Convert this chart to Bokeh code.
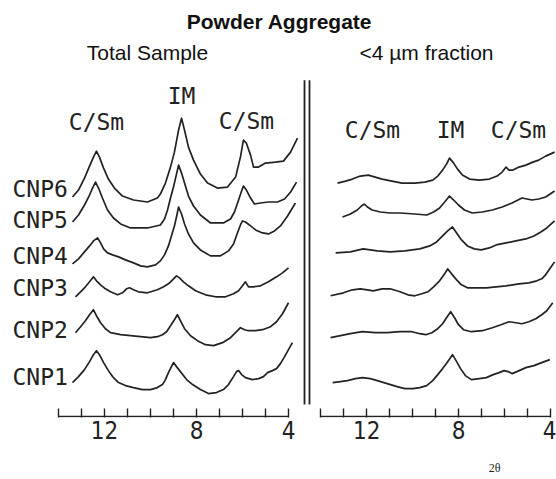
from bokeh.plotting import figure
from bokeh.models import Range1d, FixedTicker, ColumnDataSource, Label, LinearAxis
from bokeh.transform import dodge
from bokeh.embed import file_html
from bokeh.resources import INLINE

# ---------------- data ----------------
samples = ["CNP6", "CNP5", "CNP4", "CNP3", "CNP2", "CNP1"]
tick_values = [14, 13, 12, 11, 10, 9, 8, 7, 6, 5, 4]
labeled_ticks = [12, 8, 4]

# Total sample: 2-theta and intensity (relative) for each trace, plus stacking offsets
ts_offsets = [215, 189, 150, 120, 71, 23]

ts_cnp6_2t = [13.39, 13.13, 12.87, 12.65, 12.48, 12.35, 12.22, 12.04, 11.83, 11.57, 11.22, 10.74, 10.13, 9.70, 9.57, 9.35, 9.13, 8.96, 8.78, 8.65, 8.52, 8.35, 8.13, 7.83, 7.52, 7.09, 6.65, 6.30, 6.09, 5.96, 5.83, 5.65, 5.52, 5.30, 5.00, 4.57, 4.22, 3.91, 3.61]
ts_cnp6_i = [5, 12, 24, 36, 45, 51, 45, 34, 23, 14, 6, 2, 0, 4, 8, 19, 35, 50, 72, 84, 72, 55, 42, 28, 19, 14, 15, 25, 45, 62, 59, 47, 35, 35, 39, 40, 41, 50, 64]

ts_cnp5_2t = [13.39, 13.13, 12.87, 12.65, 12.52, 12.39, 12.26, 12.09, 11.87, 11.61, 11.30, 10.87, 10.13, 9.57, 9.39, 9.26, 9.13, 9.00, 8.87, 8.78, 8.65, 8.52, 8.35, 8.13, 7.83, 7.39, 6.83, 6.52, 6.35, 6.17, 6.04, 5.96, 5.83, 5.65, 5.48, 5.22, 4.87, 4.48, 4.17, 3.91, 3.65]
ts_cnp5_i = [6, 13, 23, 33, 40, 46, 40, 30, 18, 10, 4, 0, 0, 3, 9, 18, 30, 41, 54, 63, 55, 45, 32, 22, 13, 5, 5, 9, 16, 28, 37, 42, 38, 30, 24, 25, 26, 26, 29, 36, 46]

ts_cnp4_2t = [13.39, 13.13, 12.87, 12.65, 12.48, 12.30, 12.17, 12.04, 11.87, 11.65, 11.39, 11.09, 10.74, 10.43, 10.13, 9.78, 9.57, 9.39, 9.22, 9.09, 8.96, 8.87, 8.78, 8.65, 8.52, 8.35, 8.13, 7.83, 7.39, 6.96, 6.61, 6.39, 6.22, 6.09, 6.00, 5.87, 5.70, 5.43, 5.13, 4.87, 4.61, 4.35, 4.04, 3.70]
ts_cnp4_i = [3, 8, 15, 21, 26, 29, 24, 18, 14, 12, 10, 7, 4, 1, 0, 2, 6, 12, 21, 31, 41, 50, 60, 53, 43, 33, 24, 17, 11, 11, 16, 23, 34, 42, 46, 45, 42, 37, 34, 33, 36, 41, 51, 64]

ts_cnp3_2t = [13.26, 13.04, 12.83, 12.65, 12.48, 12.35, 12.17, 11.96, 11.74, 11.43, 11.22, 11.04, 10.91, 10.74, 10.52, 10.13, 9.70, 9.43, 9.22, 9.04, 8.87, 8.74, 8.57, 8.35, 8.04, 7.61, 7.17, 6.74, 6.39, 6.17, 6.00, 5.87, 5.74, 5.52, 5.22, 4.87, 4.52, 4.26, 4.00]
ts_cnp3_i = [0, 5, 10, 15, 20, 16, 12, 8, 5, 2, 4, 8, 9, 7, 5, 4, 7, 10, 13, 17, 21, 19, 15, 11, 6, 2, 0, 0, 3, 6, 11, 15, 10, 10, 11, 15, 20, 24, 29]

ts_cnp2_2t = [13.26, 13.04, 12.83, 12.65, 12.48, 12.35, 12.17, 11.96, 11.74, 11.30, 10.87, 10.43, 10.00, 9.70, 9.48, 9.30, 9.13, 8.96, 8.83, 8.70, 8.52, 8.26, 7.96, 7.61, 7.26, 6.87, 6.52, 6.26, 6.09, 5.91, 5.74, 5.43, 5.13, 4.78, 4.52, 4.26, 4.00]
ts_cnp2_i = [13, 19, 25, 31, 36, 30, 23, 17, 13, 11, 10, 9, 8, 9, 11, 14, 20, 26, 31, 25, 17, 10, 5, 1, 0, 3, 8, 14, 18, 16, 15, 15, 16, 19, 24, 32, 43]

ts_cnp1_2t = [13.39, 13.13, 12.87, 12.65, 12.48, 12.35, 12.22, 12.04, 11.83, 11.65, 11.39, 11.09, 10.74, 10.35, 10.00, 9.70, 9.48, 9.35, 9.22, 9.09, 9.00, 8.87, 8.70, 8.43, 8.17, 7.83, 7.48, 7.13, 6.83, 6.61, 6.39, 6.26, 6.17, 6.04, 5.87, 5.57, 5.30, 5.09, 4.91, 4.70, 4.52, 4.35, 4.17, 4.00, 3.83]
ts_cnp1_i = [11, 17, 24, 32, 39, 43, 39, 31, 23, 17, 11, 8, 6, 4, 4, 6, 9, 14, 21, 27, 31, 27, 22, 14, 9, 4, 0, 1, 4, 9, 17, 22, 23, 19, 16, 14, 15, 17, 21, 23, 25, 30, 37, 44, 51]

# <4 um fraction
f4_offsets = [234, 200, 164, 121, 79, 28]

f4_cnp6_2t = [13.27, 12.92, 12.62, 12.28, 11.93, 11.63, 11.33, 10.90, 10.47, 9.91, 9.47, 9.13, 8.91, 8.70, 8.53, 8.40, 8.22, 8.05, 7.84, 7.53, 7.10, 6.67, 6.33, 6.11, 5.94, 5.81, 5.64, 5.38, 5.08, 4.78, 4.52, 4.22, 3.83]
f4_cnp6_i = [0, 2, 4, 7, 8, 6, 4, 2, 0, 0, 1, 3, 7, 13, 19, 25, 20, 14, 8, 4, 3, 4, 7, 11, 16, 13, 13, 16, 18, 21, 23, 27, 31]

f4_cnp5_2t = [13.05, 12.71, 12.41, 12.23, 12.10, 11.97, 11.76, 11.41, 10.98, 10.55, 9.91, 9.39, 9.09, 8.83, 8.61, 8.40, 8.22, 8.01, 7.75, 7.41, 6.97, 6.54, 6.11, 5.68, 5.42, 5.25, 5.03, 4.82, 4.52, 4.22, 3.83]
f4_cnp5_i = [0, 3, 7, 11, 13, 10, 7, 5, 4, 4, 3, 2, 5, 9, 15, 21, 17, 12, 7, 4, 5, 7, 10, 14, 17, 19, 18, 17, 18, 20, 26]

f4_cnp4_2t = [13.35, 12.71, 12.15, 11.54, 10.98, 10.34, 9.69, 9.26, 8.96, 8.70, 8.48, 8.27, 8.09, 7.88, 7.62, 7.32, 7.02, 6.67, 6.37, 5.94, 5.51, 5.08, 4.73, 4.43, 4.17, 3.83]
f4_cnp4_i = [0, 1, 4, 2, 1, 2, 4, 7, 11, 17, 22, 26, 20, 13, 7, 4, 3, 5, 8, 10, 12, 14, 17, 21, 25, 32]

f4_cnp3_2t = [13.57, 13.01, 12.62, 12.28, 11.97, 11.72, 11.33, 10.98, 10.55, 10.21, 9.91, 9.60, 9.34, 9.09, 8.83, 8.61, 8.48, 8.31, 8.09, 7.88, 7.62, 7.23, 6.80, 6.37, 5.94, 5.38, 4.95, 4.60, 4.39, 4.22, 4.04, 3.83]
f4_cnp3_i = [0, 3, 6, 7, 6, 5, 7, 7, 4, 1, 0, 2, 4, 9, 15, 22, 27, 22, 16, 11, 8, 8, 8, 9, 10, 12, 13, 15, 17, 21, 27, 34]

f4_cnp2_2t = [13.57, 13.14, 12.71, 12.19, 11.63, 11.11, 10.55, 10.03, 9.69, 9.43, 9.17, 8.91, 8.70, 8.53, 8.35, 8.18, 8.01, 7.79, 7.45, 6.97, 6.54, 6.16, 5.81, 5.51, 5.25, 4.95, 4.65, 4.39, 4.17, 3.91]
f4_cnp2_i = [0, 2, 4, 6, 5, 5, 6, 6, 4, 3, 5, 9, 14, 20, 26, 20, 13, 8, 6, 7, 10, 13, 16, 15, 14, 16, 19, 23, 27, 35]

f4_cnp1_2t = [13.48, 13.14, 12.84, 12.49, 12.19, 11.84, 11.54, 11.11, 10.68, 10.34, 9.99, 9.69, 9.39, 9.13, 8.91, 8.70, 8.48, 8.27, 8.09, 7.92, 7.71, 7.45, 7.10, 6.80, 6.50, 6.24, 6.03, 5.85, 5.68, 5.47, 5.08, 4.73, 4.39, 4.04]
f4_cnp1_i = [6, 7, 8, 10, 11, 10, 8, 5, 2, 0, 0, 1, 3, 8, 14, 20, 27, 34, 27, 20, 13, 9, 10, 11, 14, 16, 18, 17, 15, 17, 21, 23, 26, 29]

ts_traces = [(ts_cnp6_2t, ts_cnp6_i), (ts_cnp5_2t, ts_cnp5_i), (ts_cnp4_2t, ts_cnp4_i),
             (ts_cnp3_2t, ts_cnp3_i), (ts_cnp2_2t, ts_cnp2_i), (ts_cnp1_2t, ts_cnp1_i)]
f4_traces = [(f4_cnp6_2t, f4_cnp6_i), (f4_cnp5_2t, f4_cnp5_i), (f4_cnp4_2t, f4_cnp4_i),
             (f4_cnp3_2t, f4_cnp3_i), (f4_cnp2_2t, f4_cnp2_i), (f4_cnp1_2t, f4_cnp1_i)]

# ---------------- layout ----------------
W, H = 556, 477
FRAME_H = 418
PX = 23.0                 # pixels per degree 2-theta
X0 = 14 + 58 / PX         # left edge of the frame
X1 = X0 - W / PX
SHIFT = -11.4             # where the second panel sits on the shared scale
TXT_DY = 7                # lift of the text labels
INK = "#222222"
LETTER = "DejaVu Sans Mono"
SANS = "Liberation Sans"
TICKFONT = "'Liberation Sans Narrow', 'DejaVu Sans Condensed', sans-serif"


def sx(px):
    return X0 - px / PX


def sy(py):
    return 417 - py


p = figure(width=W, height=H, x_range=Range1d(X0, X1), y_range=Range1d(-1, FRAME_H - 1),
           output_backend="svg", toolbar_location=None, y_axis_location=None,
           min_border_left=0, min_border_right=0, min_border_top=0,
           min_border_bottom=H - FRAME_H, background_fill_color="white",
           border_fill_color="white", outline_line_color=None)
p.grid.visible = False

# x axis with both panels' ticks
ticks = [float(t) for t in tick_values] + [t + SHIFT for t in tick_values]
overrides = {}
for t in tick_values:
    lab = str(t) if t in labeled_ticks else ""
    overrides[float(t)] = lab
    overrides[t + SHIFT] = lab
ax = p.xaxis[0]
ax.ticker = FixedTicker(ticks=ticks, minor_ticks=[])
ax.major_label_overrides = overrides
ax.axis_line_color = None
ax.major_tick_in = 9
ax.major_tick_out = 0
ax.major_tick_line_width = 1.4
ax.major_tick_line_color = INK
ax.minor_tick_line_color = None
ax.major_label_text_font = TICKFONT
ax.major_label_text_font_size = "24px"
ax.major_label_text_color = INK
ax.major_label_standoff = 3

# "2θ" note under the right panel, as a one-label axis stacked below
pos_2t = sx(494)
ax2 = LinearAxis(ticker=FixedTicker(ticks=[pos_2t], minor_ticks=[]),
                 major_label_overrides={pos_2t: "2\u03b8"},
                 axis_line_color=None, major_tick_line_color=None,
                 minor_tick_line_color=None, major_label_standoff=13,
                 major_label_text_font="Liberation Serif",
                 major_label_text_font_size="12px", major_label_text_color=INK)
p.add_layout(ax2, "below")

# baselines of the two panels
p.segment(x0=[14, 14 + SHIFT], x1=[4, 4 + SHIFT], y0=[0, 0], y1=[0, 0],
          line_color=INK, line_width=1.5)

# double divider
p.segment(x0=[sx(304), sx(309)], x1=[sx(304), sx(309)], y0=[sy(405), sy(405)],
          y1=[sy(80), sy(80)], line_color=INK, line_width=1.8)

# traces
for (xs, ys), off in zip(ts_traces, ts_offsets):
    src = ColumnDataSource(dict(x=xs, y=[off + v for v in ys]))
    p.line(x="x", y="y", source=src, line_color=INK, line_width=1.7, line_join="round")
for (xs, ys), off in zip(f4_traces, f4_offsets):
    src = ColumnDataSource(dict(x=xs, y=[off + v for v in ys]))
    p.line(x=dodge("x", SHIFT), y="y", source=src, line_color=INK, line_width=1.7,
           line_join="round")


def add_label(text, cx, base, font, size, align="center", style="normal", color=INK):
    p.add_layout(Label(x=sx(cx), y=sy(base - TXT_DY), text=text, text_align=align,
                       text_baseline="alphabetic", text_font=font,
                       text_font_size=size, text_font_style=style, text_color=color))


add_label("Powder Aggregate", 279, 28, SANS, "21px", style="bold", color="#111111")
add_label("Total Sample", 147, 59, SANS, "21px", color="#111111")
add_label("<4 \u00b5m fraction", 426, 59, SANS, "21px", color="#111111")

add_label("C/Sm", 96, 129, LETTER, "23px")
add_label("IM", 181, 103, LETTER, "23px")
add_label("C/Sm", 246, 128, LETTER, "23px")
add_label("C/Sm", 372, 137, LETTER, "23px")
add_label("IM", 450, 137, LETTER, "23px")
add_label("C/Sm", 518, 137, LETTER, "23px")

label_baselines = [196, 227, 263, 295, 337, 384]
for name, b in zip(samples, label_baselines):
    add_label(name, 12, b, LETTER, "23px", align="left")

open("out.html", "w").write(file_html(p, INLINE))
